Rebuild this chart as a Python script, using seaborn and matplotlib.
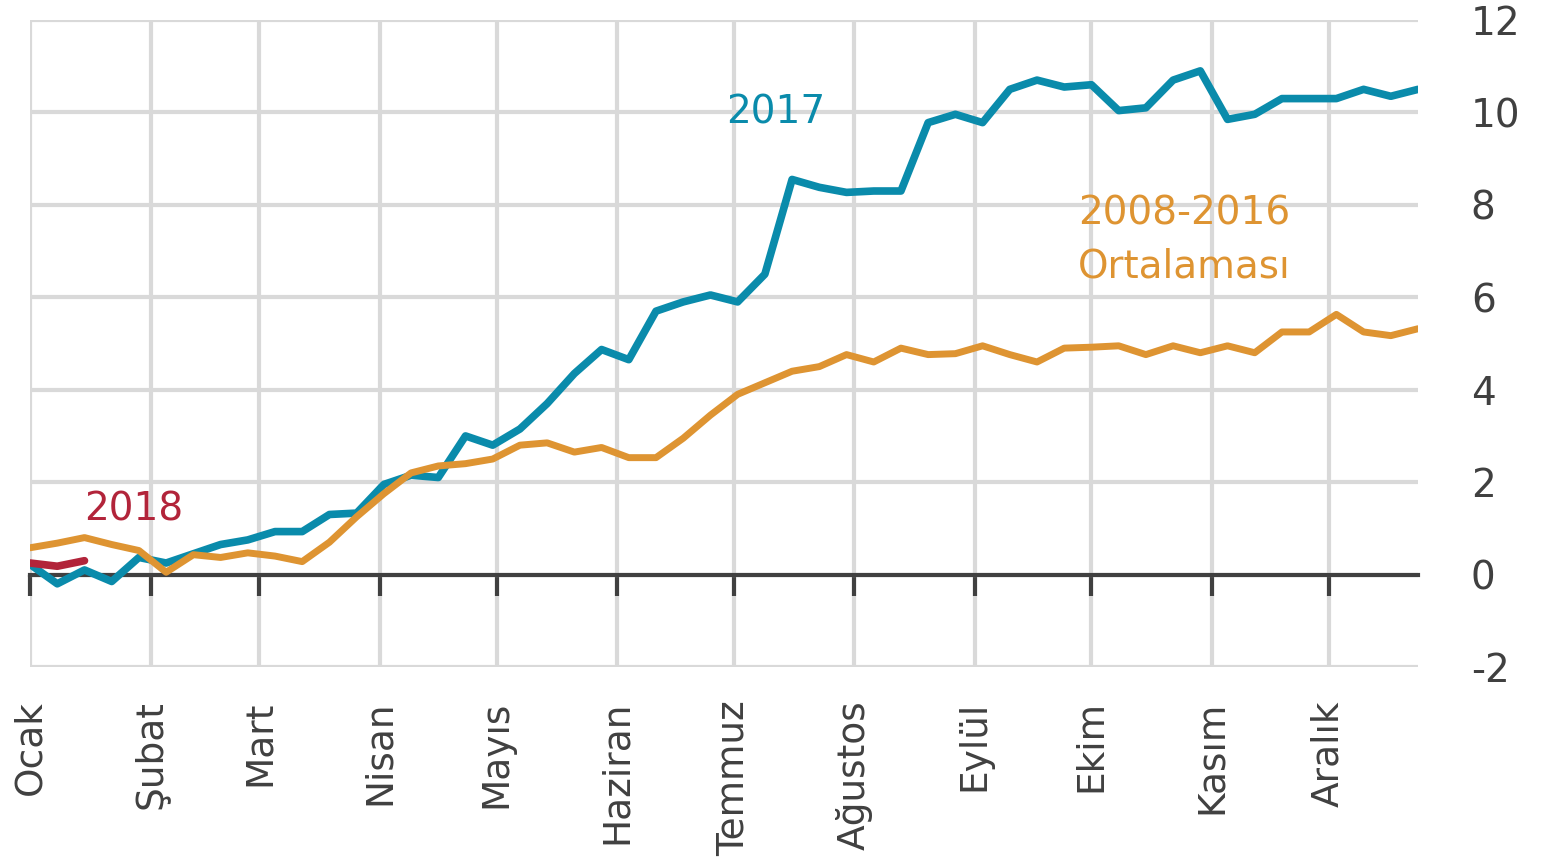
import pandas as pd
import matplotlib.pyplot as plt
import seaborn as sns

sns.set_theme(style="white")
plt.rcParams['font.family'] = ['DejaVu Sans']
plt.rcParams['axes.unicode_minus'] = False

# Month labels and first day of each month (day of year)
months = ["Ocak", "Şubat", "Mart", "Nisan", "Mayıs", "Haziran", "Temmuz",
          "Ağustos", "Eylül", "Ekim", "Kasım", "Aralık"]
month_start_day = [0, 31, 59, 90, 120, 151, 181, 212, 243, 273, 304, 334]

# Weekly cumulative values
weeks = list(range(52))
y2017 = [0.22, -0.2, 0.1, -0.15, 0.37, 0.25, 0.45, 0.65, 0.75, 0.93,
         0.93, 1.3, 1.33, 1.95, 2.15, 2.1, 3.0, 2.8, 3.15, 3.7,
         4.35, 4.87, 4.65, 5.7, 5.9, 6.05, 5.9, 6.5, 8.55, 8.38,
         8.27, 8.3, 8.3, 9.78, 9.96, 9.78, 10.5, 10.7, 10.55, 10.6,
         10.04, 10.1, 10.7, 10.9, 9.85, 9.96, 10.3, 10.3, 10.3, 10.5,
         10.35, 10.5]
avg_2008_2016 = [0.58, 0.68, 0.8, 0.65, 0.52, 0.05, 0.43, 0.37, 0.47, 0.4,
                 0.28, 0.7, 1.25, 1.75, 2.2, 2.35, 2.4, 2.5, 2.8, 2.85,
                 2.65, 2.75, 2.53, 2.53, 2.95, 3.45, 3.9, 4.15, 4.4, 4.5,
                 4.76, 4.6, 4.9, 4.76, 4.78, 4.95, 4.76, 4.6, 4.9, 4.92,
                 4.95, 4.76, 4.95, 4.8, 4.95, 4.8, 5.25, 5.25, 5.63, 5.25,
                 5.17, 5.32]
weeks_2018 = [0, 1, 2]
y2018 = [0.25, 0.18, 0.3]

teal = "#0A8BAB"
orange = "#DE9432"
red = "#B2243A"
dark = "#404040"
grid = "#D9D9D9"

df17 = pd.DataFrame({"week": weeks, "value": y2017})
dfavg = pd.DataFrame({"week": weeks, "value": avg_2008_2016})
df18 = pd.DataFrame({"week": weeks_2018, "value": y2018})

fig = plt.figure(figsize=(15.42, 8.67), dpi=100)
ax = fig.add_axes([0.0195, 0.2307, 0.9001, 0.7462])

sns.lineplot(data=df17, x="week", y="value", color=teal, linewidth=5.5, ax=ax, zorder=3)
sns.lineplot(data=dfavg, x="week", y="value", color=orange, linewidth=5, ax=ax, zorder=3)
sns.lineplot(data=df18, x="week", y="value", color=red, linewidth=5.5, ax=ax, zorder=4)

month_pos = [d / 7 for d in month_start_day]
ax.set_xlim(0, 51)
ax.set_ylim(-2, 12)
ax.set_xticks(month_pos)
ax.set_yticks(range(-2, 13, 2))
ax.grid(True, color=grid, linewidth=3)
ax.set_axisbelow(True)

for side in ["top", "right", "left"]:
    ax.spines[side].set_visible(False)
ax.spines["bottom"].set_position(("data", 0))
ax.spines["bottom"].set_color(dark)
ax.spines["bottom"].set_linewidth(3)
ax.tick_params(axis="x", direction="out", length=15, width=3, color=dark,
               labelbottom=False, bottom=True)

ax.yaxis.tick_right()
ax.tick_params(axis="y", length=0, pad=38, labelsize=28, labelcolor=dark)
for lab in ax.get_yticklabels():
    lab.set_horizontalalignment("left")

sec = ax.secondary_xaxis(0)
sec.set_xticks(month_pos, labels=months)
sec.tick_params(length=0, pad=24, labelsize=27, labelcolor=dark, labelrotation=90)
sec.spines["bottom"].set_visible(False)

ax.set_xlabel("")
ax.set_ylabel("")

ax.text(27.4, 10.0, "2017", color=teal, fontsize=28, ha="center", va="center")
ax.text(3.8, 1.4, "2018", color=red, fontsize=28, ha="center", va="center")
ax.text(38.5, 7.25, "2008-2016\nOrtalaması", color=orange, fontsize=28,
        ha="left", va="center", linespacing=1.5)

fig.savefig("out.png", dpi=100)
